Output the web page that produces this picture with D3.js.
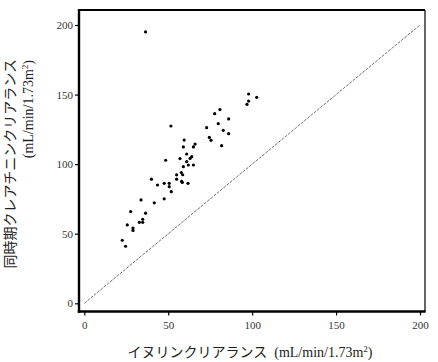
<!DOCTYPE html>
<html>
<head>
<meta charset="utf-8">
<script src="https://cdn.jsdelivr.net/npm/d3@7"></script>
<style>
  body { margin: 0; background: #fff; }
  svg { display: block; }
</style>
</head>
<body>
<div id="chart"></div>
<script>
// inulin clearance (x) vs. creatinine clearance (y), mL/min/1.73m2
const inulin = [36.5, 97.9, 102.7, 97.9, 96.9, 80.8, 77.7, 86, 79.8, 72.9, 51.6, 82.8, 86, 74.5, 75.5, 81.8,
  59.5, 66, 65, 59, 61, 64, 63, 57, 48.5, 61, 62, 65, 59, 57.8, 58.6, 55, 40, 55, 58, 58.4, 61.8,
  47.6, 50.6, 43.6, 50.6, 51.8, 47.6, 33.8, 41.7, 27.6, 36.5, 34.8, 32.8, 34.8, 25.6, 29, 29, 22.6, 24.6];
const ccr = [195, 150.4, 148, 145.3, 143, 139.2, 136.3, 132.5, 129.1, 126.2, 127.4, 124.3, 121.9, 119.2, 117.1, 113.3,
  117.3, 114.4, 112.4, 112.4, 107.3, 105.4, 104.1, 104, 102.8, 101.8, 99.4, 99.4, 98.2, 94, 92.4, 92.3, 89.2, 89.2, 87.6, 86.9, 86.2,
  86.2, 86.2, 85, 83.8, 80.2, 75.1, 74.3, 72.2, 65.9, 64.8, 60.4, 58.2, 58.2, 56.3, 54.1, 52.4, 45.3, 41];
const ticks = [0, 50, 100, 150, 200];
const identity = [0, 200];

const width = 438, height = 362;
const box = { left: 79, top: 10, right: 425, bottom: 311.5 };

const svg = d3.select("#chart").append("svg")
  .attr("width", width)
  .attr("height", height);

const x = d3.scaleLinear().domain([0, 200]).range([84.3, 420]);
const y = d3.scaleLinear().domain([0, 200]).range([303.3, 25]);

const serif = "'Liberation Serif', 'DejaVu Serif', serif";
const jp = "'Noto Sans CJK JP', sans-serif";

// frame
svg.append("line").attr("x1", box.left).attr("x2", box.right).attr("y1", box.top).attr("y2", box.top)
  .attr("stroke", "#000").attr("stroke-width", 1.8);
svg.append("line").attr("x1", box.right).attr("x2", box.right).attr("y1", box.top).attr("y2", box.bottom)
  .attr("stroke", "#000").attr("stroke-width", 1.2);

// axes
const xAxis = svg.append("g")
  .attr("transform", `translate(0,${box.bottom})`)
  .call(d3.axisBottom(x).tickValues(ticks).tickSize(4).tickPadding(6).tickSizeOuter(0));
const yAxis = svg.append("g")
  .attr("transform", `translate(${box.left},0)`)
  .call(d3.axisLeft(y).tickValues(ticks).tickSize(4).tickPadding(2).tickSizeOuter(0));

[xAxis, yAxis].forEach(g => {
  g.select(".domain").remove();
  g.selectAll(".tick line").attr("stroke", "#000").attr("stroke-width", 1.2);
  g.selectAll(".tick text").attr("font-family", serif).attr("font-size", 11).attr("fill", "#333");
});

svg.append("line").attr("x1", box.left).attr("x2", box.left).attr("y1", box.top - 0.9).attr("y2", box.bottom + 1.2)
  .attr("stroke", "#000").attr("stroke-width", 2.4);
svg.append("line").attr("x1", box.left - 1.2).attr("x2", box.right + 0.6).attr("y1", box.bottom).attr("y2", box.bottom)
  .attr("stroke", "#000").attr("stroke-width", 2.4);

// line of identity
svg.append("line")
  .attr("x1", x(identity[0])).attr("y1", y(identity[0]))
  .attr("x2", x(identity[1])).attr("y2", y(identity[1]))
  .attr("stroke", "#333")
  .attr("stroke-width", 0.7)
  .attr("stroke-dasharray", "3,1.2");

// points
svg.append("g")
  .selectAll("circle")
  .data(d3.zip(inulin, ccr))
  .join("circle")
  .attr("cx", d => x(d[0]))
  .attr("cy", d => y(d[1]))
  .attr("r", 1.6)
  .attr("fill", "#000");

// x title
const xt = svg.append("text")
  .attr("x", 250)
  .attr("y", 357)
  .attr("text-anchor", "middle")
  .attr("fill", "#222");
xt.append("tspan").attr("font-family", jp).attr("font-size", 14).text("イヌリンクリアランス");
xt.append("tspan").attr("font-family", serif).attr("font-size", 14).attr("dx", 7).text("(mL/min/1.73m");
xt.append("tspan").attr("font-family", serif).attr("font-size", 9).attr("dy", -5).text("2");
xt.append("tspan").attr("font-family", serif).attr("font-size", 14).attr("dy", 5).text(")");

// y title, two lines
svg.append("text")
  .attr("transform", "translate(15,59) rotate(-90)")
  .attr("text-anchor", "end")
  .attr("font-family", jp)
  .attr("font-size", 14)
  .attr("fill", "#222")
  .text("同時期クレアチニンクリアランス");

const yt = svg.append("text")
  .attr("transform", "translate(32.5,60) rotate(-90)")
  .attr("text-anchor", "end")
  .attr("fill", "#222");
yt.append("tspan").attr("font-family", serif).attr("font-size", 14).text("(mL/min/1.73m");
yt.append("tspan").attr("font-family", serif).attr("font-size", 9).attr("dy", -5).text("2");
yt.append("tspan").attr("font-family", serif).attr("font-size", 14).attr("dy", 5).text(")");
</script>
</body>
</html>
